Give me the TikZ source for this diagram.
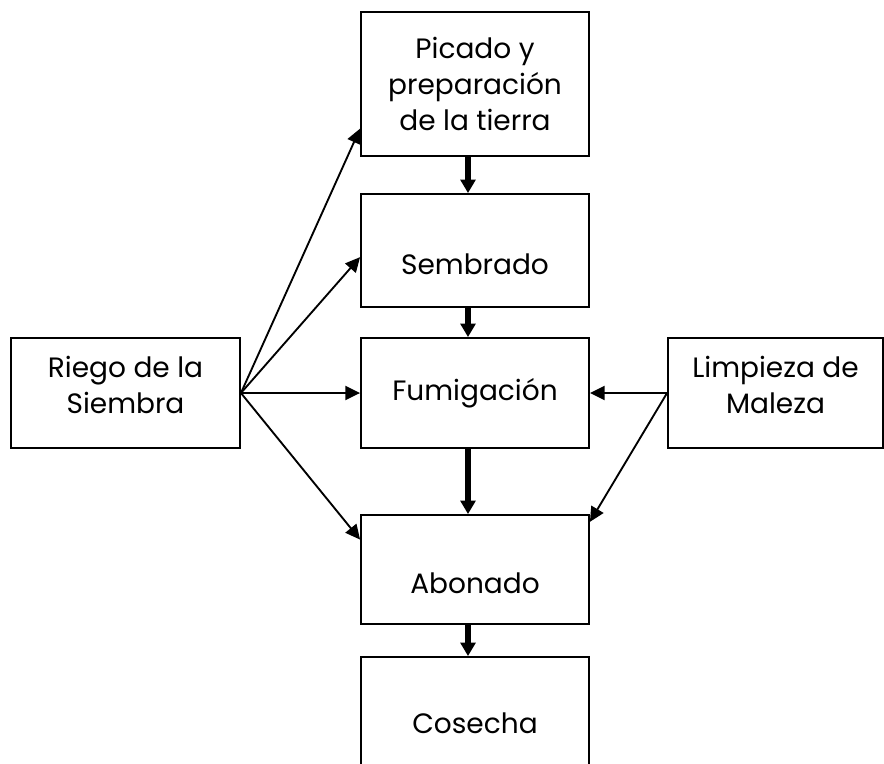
\documentclass[tikz,border=0pt]{standalone}
\usepackage{fontspec}
\setmainfont{Poppins}
\usetikzlibrary{arrows.meta,calc}

\begin{document}
\begin{tikzpicture}[x=0.75pt,y=-0.75pt,
	paso/.style={draw,line width=1.4pt,inner sep=0pt,align=center,font=\fontsize{21}{27}\selectfont},
	flecha/.style={line width=1.4pt,-{Triangle[length=11pt,width=10.5pt]}},
	gruesa/.style={line width=4pt,-{Triangle[length=10pt,width=11pt]}}]
	\clip (0,0) rectangle (884,763);
	% columna central
	\node[paso,minimum width=171pt,minimum height=108pt] (pic) at (475,84) {Picado y\\preparación\\de la tierra};
	\node[paso,minimum width=171pt,minimum height=84.75pt,text height=36pt] (sem) at (475,250.5) {Sembrado};
	\node[paso,minimum width=171pt,minimum height=82.5pt] (fum) at (475,393) {Fumigación};
	\node[paso,minimum width=171pt,minimum height=81.75pt,text height=36pt] (abo) at (475,569.5) {Abonado};
	\node[paso,minimum width=171pt,minimum height=99.75pt] (cos) at (475,723.5) {Cosecha};
	% a los lados
	\node[paso,minimum width=171.75pt,minimum height=82.5pt,text depth=12pt] (rie) at (125.5,393) {Riego de la\\Siembra};
	\node[paso,minimum width=161.25pt,minimum height=82.5pt,text depth=12pt] (lim) at (775.5,393) {Limpieza de\\Maleza};
	% flechas
	\draw[gruesa] ([xshift=-5.25pt]pic.south) -- ([xshift=-5.25pt]sem.north);
	\draw[gruesa] ([xshift=-5.25pt]sem.south) -- ([xshift=-5.25pt]fum.north);
	\draw[gruesa] ([xshift=-5.25pt]fum.south) -- ([xshift=-5.25pt]abo.north);
	\draw[gruesa] ([xshift=-5.25pt]abo.south) -- ([xshift=-5.25pt]cos.north);
	\draw[flecha] (rie.east) -- ($(pic.north west)!0.806!(pic.south west)$);
	\draw[flecha] (rie.east) -- ($(sem.north west)!0.558!(sem.south west)$);
	\draw[flecha] (rie.east) -- (fum.west);
	\draw[flecha] (rie.east) -- ($(abo.north west)!0.23!(abo.south west)$);
	\draw[flecha] (lim.west) -- (fum.east);
	\draw[flecha] (lim.west) -- ($(abo.north east)!0.07!(abo.south east)$);
\end{tikzpicture}
\end{document}
